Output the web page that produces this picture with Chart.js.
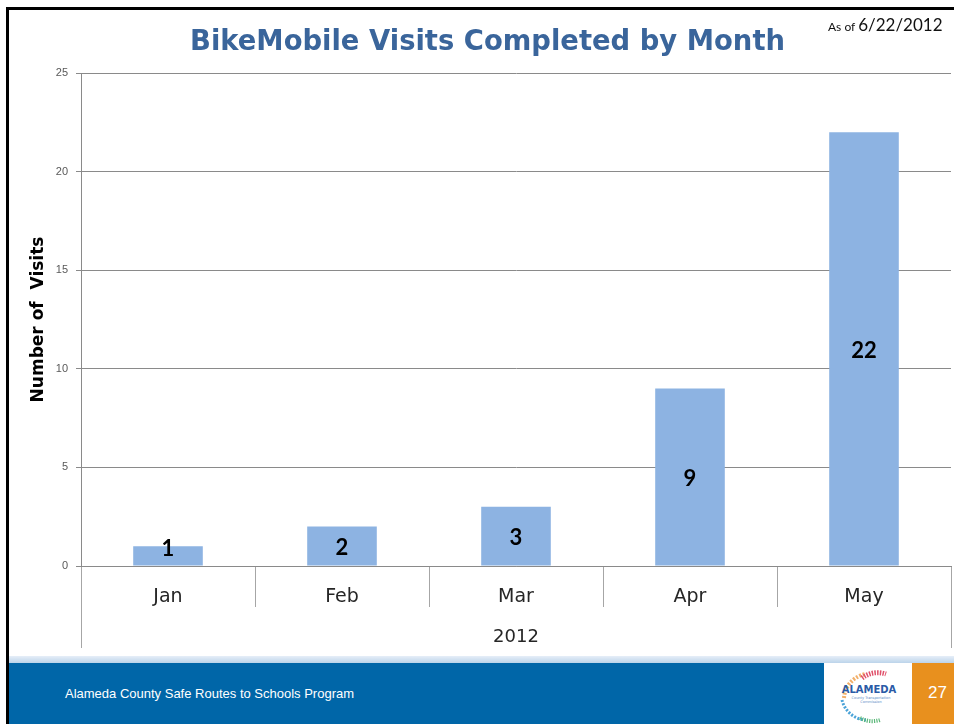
<!DOCTYPE html>
<html>
<head>
<meta charset="utf-8">
<script src="https://cdn.jsdelivr.net/npm/chart.js@4.4.1/dist/chart.umd.min.js"></script>
<style>
  html, body { margin: 0; padding: 0; background: #ffffff; }
  body { width: 954px; height: 724px; position: relative; overflow: hidden; }
  #frameTop { position: absolute; left: 6px; top: 7px; width: 948px; height: 3px; background: #000; }
  #frameLeft { position: absolute; left: 6px; top: 7px; width: 3px; height: 717px; background: #000; }
  #chartWrap { position: absolute; left: 0; top: 0; width: 954px; height: 656px; }
  #title { position: absolute; left: 190px; top: 23px; white-space: nowrap; transform-origin: 0 0;
           font-family: "DejaVu Sans", sans-serif; font-weight: bold; font-size: 29px; color: #3a659b; }
  #asof { position: absolute; left: 828px; top: 14px; white-space: nowrap; font-family: Lato, "Open Sans", sans-serif; color: #111; }
  #asof .s { font-size: 12px; }
  #asof .b { font-size: 17px; }
  #footLine { position: absolute; left: 9px; top: 656px; width: 945px; height: 7px;
              background: linear-gradient(#e6eef8, #bcd4ea); }
  #footBlue { position: absolute; left: 9px; top: 663px; width: 815px; height: 61px; background: #0066a8; }
  #footText { position: absolute; left: 65px; top: 686px; color: #fff; font-family: "Liberation Sans", Arial, sans-serif; font-size: 13px; }
  #logo { position: absolute; left: 836px; top: 668px; width: 66px; height: 56px; }
  #footOrange { position: absolute; left: 912px; top: 663px; width: 42px; height: 61px; background: #e8901e; }
  #pageNum { position: absolute; left: 928px; top: 683px; color: #fff; font-family: "Liberation Sans", Arial, sans-serif; font-size: 17px; }
</style>
</head>
<body>
<div id="chartWrap"><canvas id="c" width="954" height="656"></canvas></div>
<div id="frameTop"></div>
<div id="frameLeft"></div>
<div id="title">BikeMobile Visits Completed by Month</div>
<div id="asof"><span class="s">As of </span><span class="b">6/22/2012</span></div>
<div id="footLine"></div>
<div id="footBlue"></div>
<div id="footText">Alameda County Safe Routes to Schools Program</div>
<svg id="logo" viewBox="0 0 66 56">
  <path d="M8 30 A26 26 0 0 1 30 6" fill="none" stroke="#f2b06a" stroke-width="4" stroke-dasharray="2 1.5"/>
  <path d="M26 10 A26 26 0 0 1 50 6" fill="none" stroke="#e0506a" stroke-width="5" stroke-dasharray="1.5 1.2"/>
  <text x="33" y="25" text-anchor="middle" font-family="DejaVu Sans" font-weight="bold" font-size="10" fill="#2a5aa6">ALAMEDA</text>
  <text x="35" y="31" text-anchor="middle" font-family="DejaVu Sans" font-size="3.5" fill="#5a8ac6">County Transportation</text>
  <text x="35" y="35" text-anchor="middle" font-family="DejaVu Sans" font-size="3.5" fill="#5a8ac6">Commission</text>
  <path d="M6 32 A26 26 0 0 0 30 52" fill="none" stroke="#4aa3d8" stroke-width="3" stroke-dasharray="2 1.5"/>
  <path d="M24 50 A26 26 0 0 0 44 52" fill="none" stroke="#5cb87a" stroke-width="4" stroke-dasharray="1.2 1.2"/>
</svg>
<div id="footOrange"></div>
<div id="pageNum">27</div>

<script>
const months = ['Jan', 'Feb', 'Mar', 'Apr', 'May'];
const yearLabels = ['2012'];
const visits = [1, 2, 3, 9, 22];
const yTicks = [0, 5, 10, 15, 20, 25];

// fit title to reference width
(function () {
  const t = document.getElementById('title');
  const w = t.getBoundingClientRect().width;
  t.style.transform = 'scaleX(' + (595 / w) + ')';
})();

const barLabels = {
  id: 'barLabels',
  afterDatasetsDraw(chart) {
    const ctx = chart.ctx;
    const meta = chart.getDatasetMeta(0);
    ctx.save();
    ctx.font = 'bold 22px Lato, "Open Sans", sans-serif';
    ctx.fillStyle = '#000000';
    ctx.textAlign = 'center';
    ctx.textBaseline = 'middle';
    meta.data.forEach((bar, i) => {
      const p = bar.getProps(['x', 'y', 'base'], true);
      const cy = Math.min((p.y + p.base) / 2, p.base - 19);
      ctx.fillText(String(visits[i]), p.x, cy + 2);
    });
    ctx.restore();
  }
};

new Chart(document.getElementById('c'), {
  type: 'bar',
  data: {
    labels: months,
    datasets: [{
      label: 'Visits',
      data: visits,
      backgroundColor: '#8db3e2',
      borderWidth: 0,
      barPercentage: 0.4,
      categoryPercentage: 1.0
    }]
  },
  options: {
    responsive: false,
    devicePixelRatio: 1,
    animation: false,
    layout: { padding: { top: 73, right: 3, left: 0, bottom: 8 } },
    plugins: {
      legend: { display: false },
      tooltip: { enabled: false },
      title: { display: false }
    },
    scales: {
      y: {
        min: 0,
        max: 25,
        afterBuildTicks(scale) { scale.ticks = yTicks.map(v => ({ value: v })); },
        afterFit(scale) { scale.width = 81; },
        grid: { color: '#8a8a8a', lineWidth: 1, tickLength: 5, drawTicks: true },
        border: { color: '#8a8a8a', width: 1 },
        ticks: {
          color: '#595959',
          font: { family: '"Liberation Sans", Arial, sans-serif', size: 11 },
          padding: 8
        },
        title: {
          display: true,
          text: 'Number of  Visits',
          color: '#000000',
          font: { family: '"DejaVu Sans", sans-serif', size: 17, weight: 'bold' },
          padding: { top: 28, bottom: 0 }
        }
      },
      x: {
        weight: 0,
        afterFit(scale) { scale.height = 41; },
        grid: { offset: true, drawOnChartArea: false, tickLength: 41, color: '#a6a6a6' },
        border: { color: '#8a8a8a', width: 1 },
        ticks: {
          color: '#262626',
          font: { family: '"DejaVu Sans", sans-serif', size: 19 },
          padding: -21,
          maxRotation: 0,
          autoSkip: false
        }
      },
      x2: {
        type: 'category',
        position: 'bottom',
        weight: 1,
        labels: yearLabels,
        offset: true,
        afterFit(scale) { scale.height = 41; },
        grid: { offset: true, drawOnChartArea: false, tickLength: 41, color: '#a6a6a6' },
        border: { display: false },
        ticks: {
          color: '#262626',
          font: { family: '"DejaVu Sans", sans-serif', size: 18 },
          padding: -21,
          maxRotation: 0,
          autoSkip: false
        }
      }
    }
  },
  plugins: [barLabels]
});
</script>
</body>
</html>
